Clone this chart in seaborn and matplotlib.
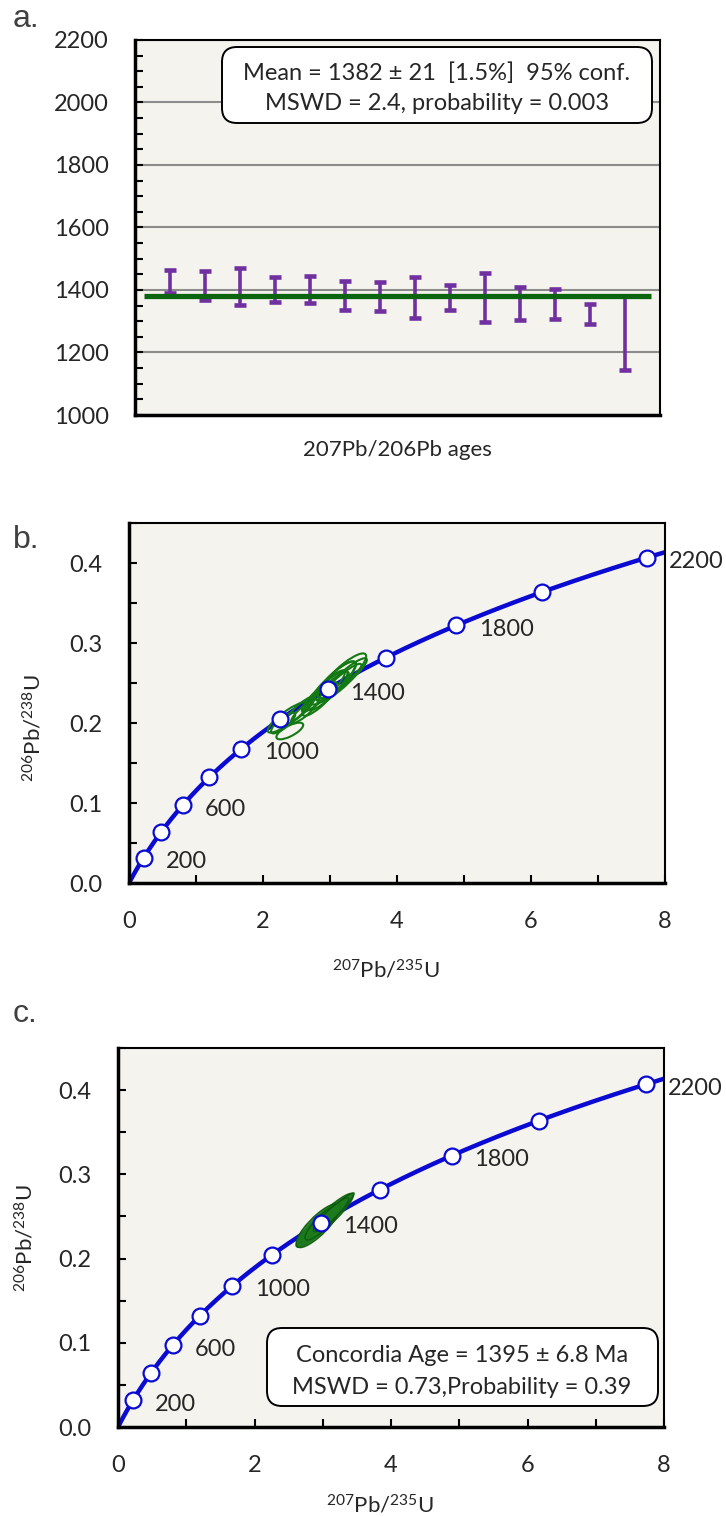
import numpy as np
import pandas as pd
import seaborn as sns
import matplotlib
matplotlib.use("Agg")
import matplotlib.pyplot as plt
from matplotlib.patches import Ellipse, FancyBboxPatch
from matplotlib.ticker import MultipleLocator, FormatStrFormatter

# --- panel a: 207Pb/206Pb ages (Ma) and 2 sigma errors
grain = list(range(1, 15))
age_76 = [1427, 1415, 1412, 1402, 1402, 1383, 1379, 1377, 1376, 1375, 1357, 1355, 1324, 1262]
err_76 = [36, 47, 59, 41, 43, 46, 46, 66, 39, 78, 53, 49, 32, 118]
mean_age = 1382

# --- concordia (decay constants per Ma)
lam238 = 1.55125e-4
lam235 = 9.8485e-4
marker_ages = [200, 400, 600, 800, 1000, 1200, 1400, 1600, 1800, 2000, 2200]
label_ages = [200, 600, 1000, 1400, 1800, 2200]
curve_max_age = 2260

# --- panel b: all analyses (207Pb/235U, 206Pb/238U, 1s errors, rho)
b_x = [3.05, 3.15, 3.20, 2.98, 3.10, 2.90, 3.25, 2.85, 3.02, 2.37, 2.40, 2.55, 2.62, 2.30]
b_y = [0.250, 0.250, 0.261, 0.240, 0.254, 0.239, 0.259, 0.230, 0.247, 0.207, 0.190, 0.216, 0.215, 0.200]
b_sx = [0.17, 0.16, 0.17, 0.15, 0.14, 0.16, 0.15, 0.13, 0.12, 0.15, 0.10, 0.11, 0.10, 0.09]
b_sy = [0.0135, 0.0120, 0.0130, 0.0120, 0.0115, 0.0125, 0.0110, 0.0105, 0.0095, 0.0095, 0.0052, 0.0085, 0.0075, 0.0065]
b_rho = [0.88, 0.92, 0.86, 0.90, 0.84, 0.92, 0.90, 0.86, 0.80, 0.86, 0.72, 0.88, 0.86, 0.80]

# --- panel c: concordant analyses
c_x = [3.03, 3.06, 2.93, 3.00, 3.12]
c_y = [0.2455, 0.248, 0.239, 0.243, 0.252]
c_sx = [0.21, 0.20, 0.16, 0.13, 0.13]
c_sy = [0.0160, 0.0150, 0.0130, 0.0105, 0.0100]
c_rho = [0.93, 0.97, 0.82, 0.86, 0.92]

box_a = ["Mean = 1382 \u00b1 21  [1.5%]  95% conf.", "MSWD = 2.4, probability = 0.003"]
box_c = ["Concordia Age = 1395 \u00b1 6.8 Ma", "MSWD = 0.73,Probability = 0.39"]

sns.set_theme(style="ticks")
plt.rcParams['font.family'] = ['Lato', 'DejaVu Sans']
plt.rcParams['mathtext.fontset'] = 'custom'
plt.rcParams['mathtext.rm'] = 'Lato'
plt.rcParams['mathtext.it'] = 'Lato:italic'
plt.rcParams['mathtext.bf'] = 'Lato:bold'

W, H = 726, 1517
fig = plt.figure(figsize=(W / 100, H / 100), dpi=100)
bg = "#F4F3EE"
fs = 17


def px_axes(l, t, r, b):
    return fig.add_axes([l / W, 1 - b / H, (r - l) / W, (b - t) / H])


def style_spines(ax):
    for s in ["left", "bottom"]:
        ax.spines[s].set_linewidth(2.5)
        ax.spines[s].set_color("black")
    for s in ["top", "right"]:
        ax.spines[s].set_linewidth(1.5)
        ax.spines[s].set_color("black")
        ax.spines[s].set_visible(True)
    ax.set_facecolor(bg)


def draw_box(l, t, r, b, lines, line_y, cx):
    patch = FancyBboxPatch((l / 100, (H - b) / 100), (r - l) / 100, (b - t) / 100,
                           boxstyle="round,pad=0,rounding_size=0.15",
                           transform=fig.dpi_scale_trans, facecolor="white",
                           edgecolor="black", lw=1.4, zorder=10)
    fig.add_artist(patch)
    for txt, yy in zip(lines, line_y):
        fig.text(cx / 100, (H - yy) / 100, txt, transform=fig.dpi_scale_trans,
                 ha="center", va="center", fontsize=fs, zorder=11)


def ellipses(ax, xs, ys, sxs, sys_, rhos, **kw):
    for x, y, sx, sy, r in zip(xs, ys, sxs, sys_, rhos):
        cov = np.array([[sx ** 2, r * sx * sy], [r * sx * sy, sy ** 2]])
        vals, vecs = np.linalg.eigh(cov)
        ang = np.degrees(np.arctan2(vecs[1, 1], vecs[0, 1]))
        e = Ellipse((x, y), 2 * 2 * np.sqrt(vals[1]), 2 * 2 * np.sqrt(vals[0]),
                    angle=ang, **kw)
        ax.add_patch(e)


def concordia(ax, ell_x, ell_y, ell_sx, ell_sy, ell_rho, ell_kw):
    t = np.linspace(0, curve_max_age, 400)
    curve = pd.DataFrame({"x": np.exp(lam235 * t) - 1, "y": np.exp(lam238 * t) - 1})
    sns.lineplot(data=curve, x="x", y="y", sort=False, color="#0A0AD2", lw=3.2, ax=ax, zorder=2)
    ellipses(ax, ell_x, ell_y, ell_sx, ell_sy, ell_rho, **ell_kw)
    ma = np.array(marker_ages)
    pts = pd.DataFrame({"x": np.exp(lam235 * ma) - 1, "y": np.exp(lam238 * ma) - 1})
    sns.scatterplot(data=pts, x="x", y="y", s=130, color="white", edgecolor="#0A0AD2",
                    linewidth=1.6, ax=ax, zorder=5, clip_on=False)
    for a in label_ages:
        ax.annotate(str(a), (np.exp(lam235 * a) - 1, np.exp(lam238 * a) - 1),
                    xytext=(16, -3), textcoords="offset points", ha="left", va="center",
                    fontsize=fs, annotation_clip=False, zorder=6)
    ax.set_xlim(0, 8)
    ax.set_ylim(0, 0.45)
    ax.xaxis.set_major_locator(MultipleLocator(2))
    ax.xaxis.set_minor_locator(MultipleLocator(1))
    ax.yaxis.set_major_locator(MultipleLocator(0.1))
    ax.yaxis.set_minor_locator(MultipleLocator(0.05))
    ax.yaxis.set_major_formatter(FormatStrFormatter("%.1f"))
    ax.tick_params(axis="both", which="both", direction="in", length=6, width=1.5,
                   labelsize=fs, color="black")
    ax.tick_params(axis="y", which="both", pad=19)
    ax.tick_params(axis="x", which="both", pad=20)
    ax.set_xlabel(r"$^{207}$Pb/$^{235}$U", fontsize=16)
    ax.set_ylabel(r"$^{206}$Pb/$^{238}$U", fontsize=16)
    style_spines(ax)


# ---------------- panel a
ax1 = px_axes(135, 40, 660, 415)
ax1.yaxis.grid(True, color="#8C8C8C", lw=1.5)
ax1.set_axisbelow(True)
ax1.errorbar(grain, age_76, yerr=err_76, fmt="none", ecolor="#7030A0", elinewidth=2.6,
             capsize=4.3, capthick=3.3, zorder=3)
ax1.hlines(mean_age, 0.25, 14.75, color="#0B650F", lw=3.8, zorder=4)
ax1.set_xlim(0, 15)
ax1.set_ylim(1000, 2200)
ax1.yaxis.set_major_locator(MultipleLocator(200))
ax1.yaxis.set_minor_locator(MultipleLocator(50))
ax1.tick_params(axis="y", which="both", direction="in", length=6, width=1.5, pad=19,
                labelsize=fs, color="black")
ax1.tick_params(axis="x", which="both", bottom=False, labelbottom=False)
ax1.set_xlabel("207Pb/206Pb ages", fontsize=16)
ax1.xaxis.set_label_coords(0.5, -(450 - 415) / 375)
ax1.xaxis.label.set_va("center")
style_spines(ax1)
draw_box(222, 47, 652, 123, box_a, [73, 103], 437)

# ---------------- panel b
ax2 = px_axes(129, 523, 665, 883)
concordia(ax2, b_x, b_y, b_sx, b_sy, b_rho,
          dict(facecolor="none", edgecolor="#137A13", lw=1.5, zorder=4))
ax2.xaxis.set_label_coords(0.48, -(970 - 883) / 360)
ax2.xaxis.label.set_va("center")
ax2.yaxis.set_label_coords(-(129 - 33) / 536, 0.43)
ax2.yaxis.label.set_va("center")

# ---------------- panel c
ax3 = px_axes(118, 1048, 664, 1427)
concordia(ax3, c_x, c_y, c_sx, c_sy, c_rho,
          dict(facecolor="#1D7A1D", edgecolor="#0B5A0B", lw=1.0, alpha=0.9, zorder=4))
ax3.xaxis.set_label_coords(0.48, -(1505 - 1427) / 379)
ax3.xaxis.label.set_va("center")
ax3.yaxis.set_label_coords(-(118 - 25) / 546, 0.5)
ax3.yaxis.label.set_va("center")
draw_box(267, 1328, 658, 1406, box_c, [1355, 1387], 462)

# panel letters
for letter, yy in [("a.", 27), ("b.", 548), ("c.", 1022)]:
    fig.text(13 / W, 1 - yy / H, letter, fontsize=23, color="#404040",
             family="Liberation Sans", ha="left", va="baseline")

fig.savefig("out.png", dpi=100)
